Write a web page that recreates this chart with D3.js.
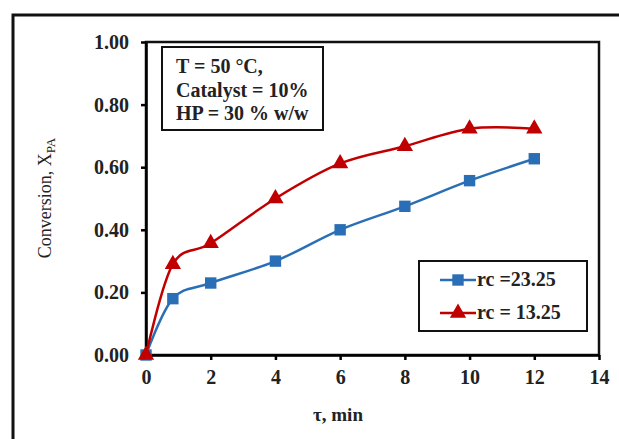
<!DOCTYPE html>
<html>
<head>
<meta charset="utf-8">
<script src="https://cdn.jsdelivr.net/npm/d3@7"></script>
<style>
  body { margin: 0; background: #fff; }
  svg { display: block; font-family: "Liberation Serif", "Times New Roman", serif; }
  .axis path, .axis line { stroke: #000; stroke-width: 2.5; }
  .axis text { font-size: 20px; font-weight: bold; font-family: "Liberation Serif", serif; fill: #222; }
</style>
</head>
<body>
<svg id="canvas" width="619" height="439"></svg>
<script>
    const svg = d3.select("#canvas");

    // data
    const times = [0, 0.83, 2, 4, 6, 8, 10, 12];
    const blueValues = [0, 0.18, 0.23, 0.30, 0.40, 0.475, 0.557, 0.627];
    const redValues = [0, 0.29, 0.357, 0.50, 0.612, 0.667, 0.723, 0.723];
    const xTicks = [0, 2, 4, 6, 8, 10, 12, 14];
    const yTicks = [0, 0.2, 0.4, 0.6, 0.8, 1.0];
    const seriesNames = ["rc =23.25", "rc = 13.25"];
    const infoLines = ["T = 50 \u00B0C,", "Catalyst = 10%", "HP = 30 % w/w"];

    const plotLeft = 146, plotRight = 599, plotTop = 42, plotBottom = 355;
    const x = d3.scaleLinear().domain([0, 14]).range([plotLeft, plotRight]);
    const y = d3.scaleLinear().domain([0, 1]).range([plotBottom, plotTop]);

    // outer frame (cut off on right and bottom)
    svg.append("path")
        .attr("d", "M13,445 L13,15 L625,15")
        .attr("fill", "none").attr("stroke", "#111").attr("stroke-width", 3);

    // plot frame
    svg.append("rect")
        .attr("x", plotLeft).attr("y", plotTop)
        .attr("width", plotRight - plotLeft).attr("height", plotBottom - plotTop)
        .attr("fill", "none").attr("stroke", "#111").attr("stroke-width", 2.5);

    svg.append("g").attr("class", "axis")
        .attr("transform", `translate(0,${plotBottom})`)
        .call(d3.axisBottom(x).tickValues(xTicks).tickSize(5).tickPadding(10).tickSizeOuter(0));

    svg.append("g").attr("class", "axis")
        .attr("transform", `translate(${plotLeft},0)`)
        .call(d3.axisLeft(y).tickValues(yTicks).tickSize(5).tickPadding(12).tickSizeOuter(0)
            .tickFormat(d3.format(".2f")));

    // axis titles
    const yl = svg.append("text")
        .attr("transform", "translate(51,198) rotate(-90)")
        .attr("text-anchor", "middle")
        .attr("font-size", 18).attr("fill", "#222");
    yl.append("tspan").text("Conversion, X");
    yl.append("tspan").attr("font-size", 13).attr("dy", 4).text("PA");

    svg.append("text")
        .attr("x", 338).attr("y", 421)
        .attr("text-anchor", "middle")
        .attr("font-size", 19).attr("font-weight", "bold").attr("fill", "#222")
        .text("\u03C4, min");

    const line = d3.line().curve(d3.curveCatmullRom.alpha(0))
        .x(d => x(d[0])).y(d => y(d[1]));

    const blue = "#2a6fb5", red = "#c00000";
    const blueData = times.map((t, i) => [t, blueValues[i]]);
    const redData = times.map((t, i) => [t, redValues[i]]);

    svg.append("path").datum(blueData)
        .attr("d", line).attr("fill", "none").attr("stroke", blue).attr("stroke-width", 2.5);
    svg.append("path").datum(redData)
        .attr("d", line).attr("fill", "none").attr("stroke", red).attr("stroke-width", 2.5);

    const sq = d3.symbol().type(d3.symbolSquare).size(130);
    const tri = d3.symbol().type(d3.symbolTriangle).size(115);

    svg.selectAll(".sq").data(blueData).enter().append("path")
        .attr("class", "sq")
        .attr("d", sq)
        .attr("transform", d => `translate(${x(d[0])},${y(d[1])})`)
        .attr("fill", blue);

    svg.selectAll(".tri").data(redData).enter().append("path")
        .attr("class", "tri")
        .attr("d", tri)
        .attr("transform", d => `translate(${x(d[0])},${y(d[1])})`)
        .attr("fill", red);

    // info box
    svg.append("rect")
        .attr("x", 162).attr("y", 47).attr("width", 161).attr("height", 83)
        .attr("fill", "#fff").attr("stroke", "#111").attr("stroke-width", 2);
    infoLines.forEach((s, i) => {
        svg.append("text")
            .attr("x", 176).attr("y", 73 + i * 23.5)
            .attr("font-size", 20).attr("font-weight", "bold").attr("fill", "#222")
            .text(s);
    });

    // legend
    svg.append("rect")
        .attr("x", 419).attr("y", 261).attr("width", 168).attr("height", 70)
        .attr("fill", "#fff").attr("stroke", "#111").attr("stroke-width", 2);
    const legendRows = [
        { name: seriesNames[0], color: blue, sym: sq, y: 280 },
        { name: seriesNames[1], color: red, sym: tri, y: 313 }
    ];
    legendRows.forEach(r => {
        svg.append("line")
            .attr("x1", 440).attr("x2", 476).attr("y1", r.y).attr("y2", r.y)
            .attr("stroke", r.color).attr("stroke-width", 2.5);
        svg.append("path").attr("d", r.sym)
            .attr("transform", `translate(458,${r.y})`).attr("fill", r.color);
        svg.append("text")
            .attr("x", 477).attr("y", r.y + 6)
            .attr("font-size", 20).attr("font-weight", "bold").attr("fill", "#222")
            .text(r.name);
    });
</script>
</body>
</html>
